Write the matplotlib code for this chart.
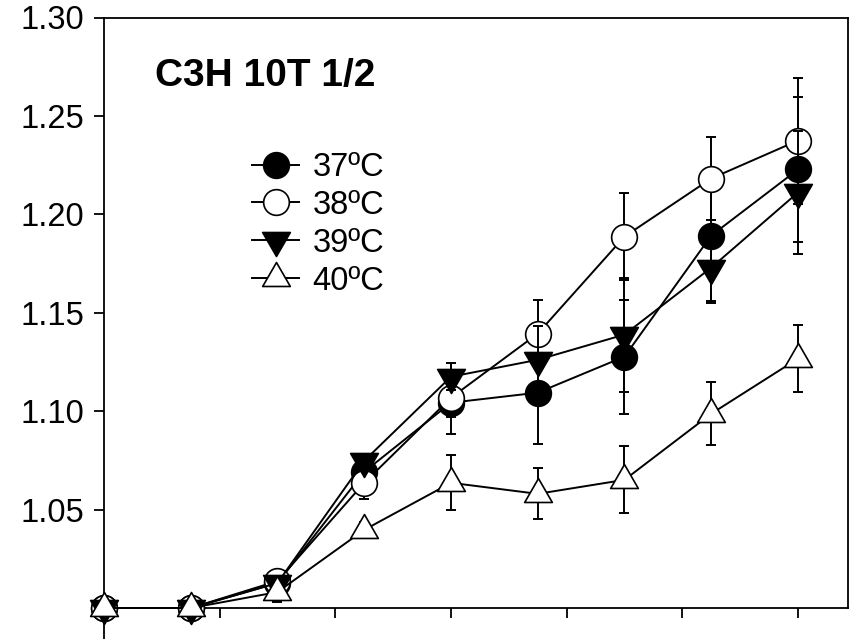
import numpy as np
import matplotlib
matplotlib.use('Agg')
import matplotlib.pyplot as plt
from matplotlib.path import Path

# hours after treatment
hours = [0, 3, 6, 9, 12, 15, 18, 21, 24]

t37 = [1.000, 1.000, 1.0127, 1.0692, 1.1043, 1.1094, 1.1277, 1.1892, 1.2228]
e37 = [0, 0, 0.003, 0.005, 0.016, 0.026, 0.029, 0.033, 0.037]

t38 = [1.000, 1.000, 1.0137, 1.0636, 1.1068, 1.1394, 1.1887, 1.2182, 1.2375]
e38 = [0, 0, 0.003, 0.008, 0.010, 0.017, 0.022, 0.021, 0.032]

t39 = [1.000, 1.000, 1.0127, 1.0748, 1.1175, 1.1261, 1.1389, 1.1729, 1.2111]
e39 = [0, 0, 0.003, 0.003, 0.007, 0.017, 0.029, 0.018, 0.031]

t40 = [1.000, 1.000, 1.0081, 1.0397, 1.0636, 1.0580, 1.0651, 1.0987, 1.1267]
e40 = [0, 0, 0.005, 0.004, 0.014, 0.013, 0.017, 0.016, 0.017]

labels = ['37ºC', '38ºC', '39ºC', '40ºC']
yticks = [1.05, 1.10, 1.15, 1.20, 1.25, 1.30]
xticks = [0, 4, 8, 12, 16, 20, 24]

plt.rcParams['font.family'] = ['Liberation Sans', 'DejaVu Sans']

# triangles centred on their centroid
s3 = np.sqrt(3)
tri_up = Path([(0, 2), (-s3, -1), (s3, -1), (0, 2)], [1, 2, 2, 79])
tri_dn = Path([(0, -2), (-s3, 1), (s3, 1), (0, -2)], [1, 2, 2, 79])

series = [
    (t37, e37, 'o', 'black', 18.5),
    (t38, e38, 'o', 'white', 18.5),
    (t39, e39, tri_dn, 'black', 23),
    (t40, e40, tri_up, 'white', 23),
]

fig = plt.figure(figsize=(8.57, 6.39), dpi=100)
ax = fig.add_axes([104 / 857, 0, 744 / 857, 1 - 17.5 / 639])

handles = []
for i, (vals, errs, mk, fc, ms) in enumerate(series):
    ax.errorbar(hours, vals, yerr=errs, fmt='none', ecolor='black', elinewidth=1.4,
                capsize=3.6, capthick=1.4, zorder=3 + 2 * i, clip_on=False)
    ln, = ax.plot(hours, vals, color='black', lw=1.4, marker=mk, markersize=ms,
                  markerfacecolor=fc, markeredgecolor='black', markeredgewidth=1.2,
                  zorder=4 + 2 * i, clip_on=False, label=labels[i])
    handles.append(ln)

ax.set_xlim(0, 25.73)
ax.set_ylim(1.0 - 31 / 1968.3, 1.30)

ax.spines['bottom'].set_position(('data', 1.0))
ax.spines['right'].set_bounds(1.0, 1.30)
for s in ax.spines.values():
    s.set_linewidth(1.3)

ax.set_yticks(yticks)
ax.set_yticklabels(['%.2f' % v for v in yticks])
ax.set_xticks(xticks)
ax.set_xticklabels([])
ax.tick_params(axis='y', direction='out', length=7, width=1.3, pad=7, labelsize=23.5)
ax.tick_params(axis='x', direction='out', length=7, width=1.3)

fig.text(155 / 857, 1 - 76 / 639, 'C3H 10T 1/2', fontsize=28, fontweight='bold',
         va='center', ha='left')

ax.legend(handles=handles, loc='upper left', bbox_to_anchor=(252 / 857, 1 - 152 / 639),
          bbox_transform=fig.transFigure, frameon=False, fontsize=23.5,
          handlelength=1.45, handletextpad=0.4, labelspacing=0.21,
          borderpad=0, borderaxespad=0)

fig.savefig('out.png', dpi=100)
